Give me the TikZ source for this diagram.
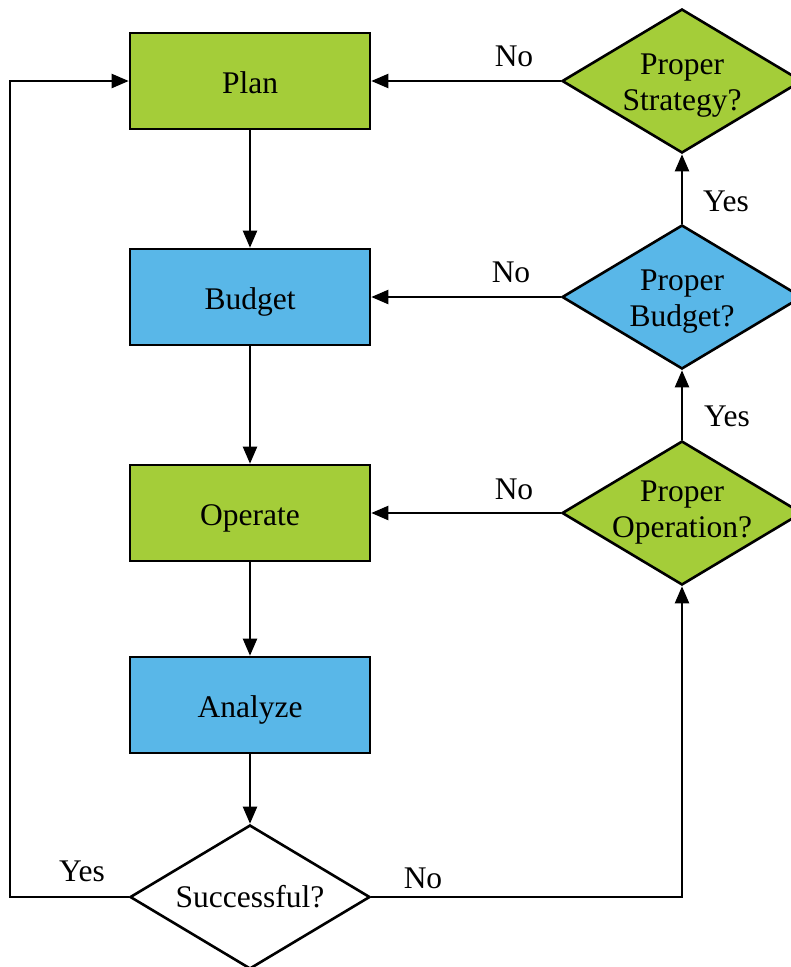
\documentclass[tikz,border=0pt]{standalone}
\usepackage{fontspec}
\setmainfont{Liberation Serif}
\usetikzlibrary{arrows.meta,shapes.geometric}
\definecolor{fgreen}{HTML}{A4CD39}
\definecolor{fblue}{HTML}{59B7E8}
\tikzset{
  every node/.style={font=\fontsize{31.5}{36}\selectfont},
  stepbox/.style={draw, line width=2.6pt, rectangle, minimum width=240pt, minimum height=96pt, inner sep=0pt, text height=24pt, text depth=0pt},
  decision/.style={draw, line width=2.6pt, diamond, minimum width=240pt, minimum height=144pt, inner sep=0pt, aspect=1.6667},
  dtext/.style={align=center, yshift=-5pt},
  conn/.style={line width=2.2pt, -{Triangle[length=17pt,width=14pt]}},
  lbl/.style={inner sep=0pt}
}
\begin{document}
\begin{tikzpicture}[x=1pt,y=-1pt]
\clip (0,0) rectangle (791,967);
\fill[white] (0,0) rectangle (791,967);
% process boxes
\node[stepbox, fill=fgreen] (plan) at (250,81) {Plan};
\node[stepbox, fill=fblue] (budget) at (250,297) {Budget};
\node[stepbox, fill=fgreen] (operate) at (250,513) {Operate};
\node[stepbox, fill=fblue] (analyze) at (250,705) {Analyze};
% decisions
\node[decision, fill=white, label={[align=center]center:Successful?}] (succ) at (250,897) {};
\node[decision, fill=fgreen, label={[dtext]center:Proper\\Strategy?}] (strategy) at (682,81) {};
\node[decision, fill=fblue, label={[dtext]center:Proper\\Budget?}] (pbudget) at (682,297) {};
\node[decision, fill=fgreen, label={[align=center]center:Proper\\Operation?}] (poper) at (682,513) {};
% main flow
\draw[conn] (plan.south) -- (budget.north);
\draw[conn] (budget.south) -- (operate.north);
\draw[conn] (operate.south) -- (analyze.north);
\draw[conn] (analyze.south) -- (succ.north);
% checks
\draw[conn] (strategy.west) -- (plan.east);
\draw[conn] (pbudget.west) -- (budget.east);
\draw[conn] (poper.west) -- (operate.east);
\draw[conn] (poper.north) -- (pbudget.south);
\draw[conn] (pbudget.north) -- (strategy.south);
% loops
\coordinate (cyesb) at (10,897);
\coordinate (cyest) at (10,81);
\coordinate (cnor) at (682,897);
\draw[conn] (succ.west) -- (cyesb) -- (cyest) -- (plan.west);
\draw[conn] (succ.east) -- (cnor) -- (poper.south);
% labels
\node[lbl] (l1) at (514,56) {No};
\node[lbl] (l2) at (511,272) {No};
\node[lbl] (l3) at (514,489) {No};
\node[lbl] (l4) at (726,201) {Yes};
\node[lbl] (l5) at (727,416) {Yes};
\node[lbl] (l6) at (82,871) {Yes};
\node[lbl] (l7) at (423,878) {No};
\end{tikzpicture}
\end{document}
